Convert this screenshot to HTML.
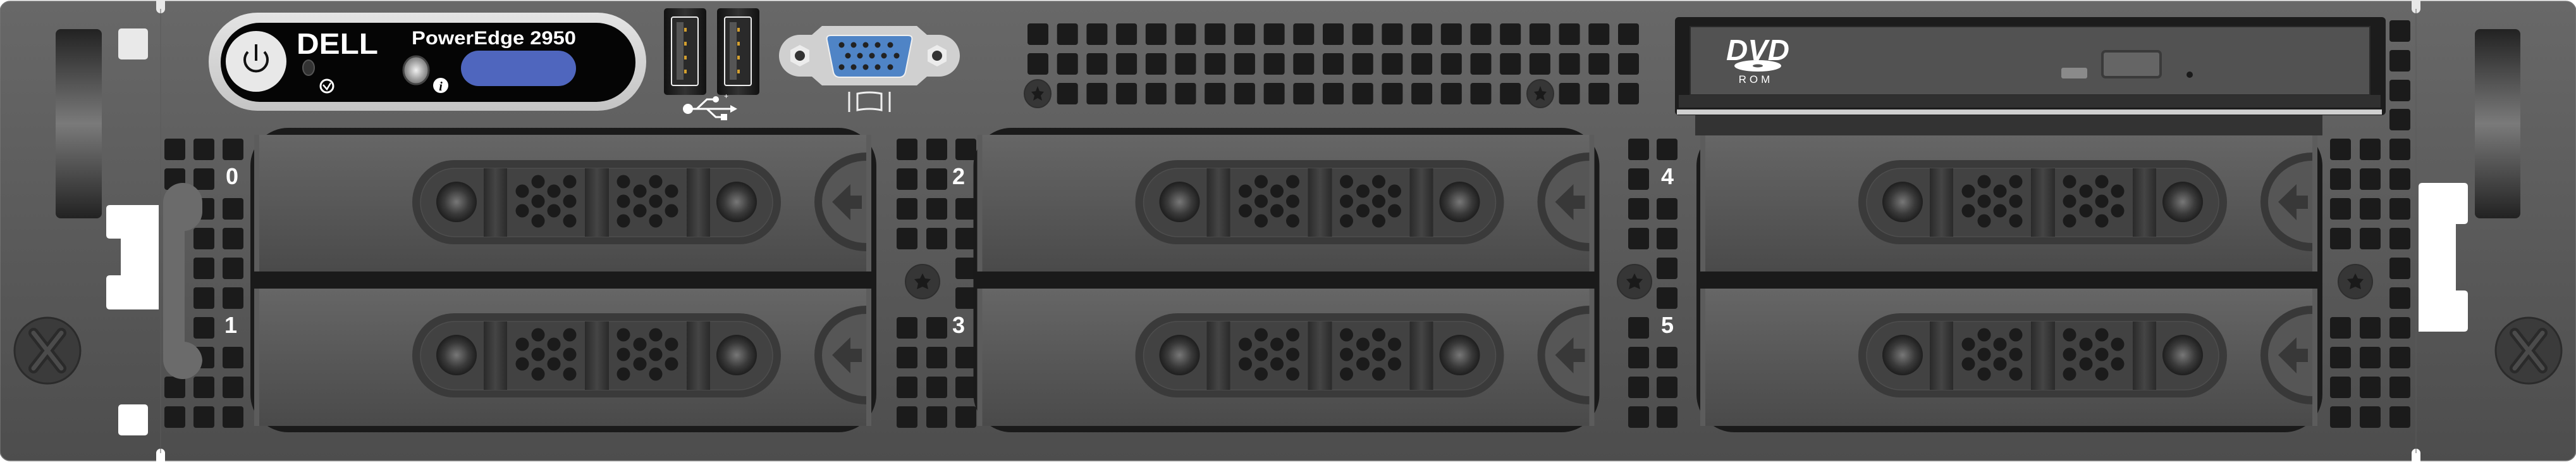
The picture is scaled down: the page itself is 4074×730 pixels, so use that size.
<!DOCTYPE html>
<html><head><meta charset="utf-8"><style>html,body{margin:0;padding:0;background:#fff}svg{display:block}</style></head><body>
<svg xmlns="http://www.w3.org/2000/svg" xmlns:xlink="http://www.w3.org/1999/xlink" width="4074" height="730" viewBox="0 0 4074 730">
<defs>
<linearGradient id="body" x1="0" y1="0" x2="0" y2="1"><stop offset="0" stop-color="#686868"/><stop offset="1" stop-color="#4d4d4d"/></linearGradient>
<linearGradient id="tray" x1="0" y1="0" x2="0" y2="1"><stop offset="0" stop-color="#666"/><stop offset="1" stop-color="#4a4a4a"/></linearGradient>
<linearGradient id="earh" x1="0" y1="0" x2="0" y2="1"><stop offset="0" stop-color="#222"/><stop offset="0.5" stop-color="#7a7a7a"/><stop offset="1" stop-color="#222"/></linearGradient>
<linearGradient id="bez" x1="0" y1="0" x2="0" y2="1"><stop offset="0" stop-color="#e4e4e4"/><stop offset="1" stop-color="#c4c4c4"/></linearGradient>
<linearGradient id="bar" x1="0" y1="0" x2="1" y2="0"><stop offset="0" stop-color="#2a2a2a"/><stop offset="0.5" stop-color="#454545"/><stop offset="1" stop-color="#2a2a2a"/></linearGradient>
<radialGradient id="knob"><stop offset="0" stop-color="#777"/><stop offset="0.6" stop-color="#3a3a3a"/><stop offset="1" stop-color="#1e1e1e"/></radialGradient>
<radialGradient id="led"><stop offset="0" stop-color="#f0f0f0"/><stop offset="1" stop-color="#777"/></radialGradient>
<linearGradient id="usb" x1="0" y1="0" x2="1" y2="0"><stop offset="0" stop-color="#111"/><stop offset="0.5" stop-color="#333"/><stop offset="1" stop-color="#111"/></linearGradient>
<g id="hh">
 <rect x="652" y="253" width="583" height="133" rx="66" fill="#3a3a3a"/>
 <rect x="665" y="266" width="557" height="108" rx="54" fill="#424242" stroke="#4e4e4e" stroke-width="1.5"/>
 <ellipse cx="722" cy="319" rx="32" ry="32" fill="url(#knob)"/>
 <ellipse cx="1165" cy="319" rx="32" ry="32" fill="url(#knob)"/>
 <rect x="765" y="266" width="37" height="108" fill="url(#bar)"/>
 <rect x="925" y="266" width="38" height="108" fill="url(#bar)"/>
 <rect x="1086" y="266" width="37" height="108" fill="url(#bar)"/>
 <g fill="#1b1b1b">
 <circle cx="826" cy="302" r="10.5"/><circle cx="826" cy="333" r="10.5"/>
 <circle cx="851" cy="287" r="10.5"/><circle cx="851" cy="318" r="10.5"/><circle cx="851" cy="349" r="10.5"/>
 <circle cx="876" cy="302" r="10.5"/><circle cx="876" cy="333" r="10.5"/>
 <circle cx="901" cy="287" r="10.5"/><circle cx="901" cy="318" r="10.5"/><circle cx="901" cy="349" r="10.5"/>
 <circle cx="986" cy="287" r="10.5"/><circle cx="986" cy="318" r="10.5"/><circle cx="986" cy="349" r="10.5"/>
 <circle cx="1012" cy="302" r="10.5"/><circle cx="1012" cy="333" r="10.5"/>
 <circle cx="1037" cy="287" r="10.5"/><circle cx="1037" cy="318" r="10.5"/><circle cx="1037" cy="349" r="10.5"/>
 <circle cx="1062" cy="302" r="10.5"/><circle cx="1062" cy="333" r="10.5"/>
 </g>
 <path d="M1370,241 A82,78 0 0 0 1370,397 Z" fill="#383838"/>
 <path d="M1370,254 A70,65 0 0 0 1370,384 Z" fill="#565656"/>
 <path d="M1316,319 L1345,291 L1345,309 L1363,309 L1363,330 L1345,330 L1345,348 Z" fill="#383838"/>
</g>
<g id="bay">
 <rect x="396" y="202" width="990" height="481" rx="60" fill="#1a1a1a"/>
 <rect x="402" y="213" width="976" height="216" fill="url(#tray)"/>
 <rect x="402" y="456" width="976" height="217" fill="url(#tray)"/>
 <rect x="402" y="213" width="8" height="216" fill="#5c5c5c"/>
 <rect x="402" y="456" width="8" height="217" fill="#5c5c5c"/>
 <use xlink:href="#hh"/>
 <use xlink:href="#hh" transform="translate(0,242)"/>
 <rect x="1370" y="213" width="8" height="216" fill="#5c5c5c"/>
 <rect x="1370" y="456" width="8" height="217" fill="#5c5c5c"/>
</g>
<rect id="c" width="33" height="34" rx="4" fill="#1b1b1b"/>
<g id="scr"><circle r="27" fill="#363636" stroke="#2e2e2e" stroke-width="2"/><path d="M0,-13 L4,-5 13,-4 7,3 9,12 0,8 -9,12 -7,3 -13,-4 -4,-5Z" fill="#1a1a1a"/></g>
<g id="ts"><ellipse rx="21" ry="22" fill="#363636" stroke="#2e2e2e" stroke-width="2"/><path d="M0,-12 L3,-4 10,-3 5,3 7,11 0,7 -7,11 -5,3 -10,-3 -3,-4Z" fill="#1a1a1a"/></g>
<g id="ears"><circle r="52" fill="#3b3b3b" stroke="#2b2b2b" stroke-width="3"/><path d="M-22,-28 L22,28 M22,-28 L-22,28" stroke="#2a2a2a" stroke-width="16" stroke-linecap="round"/><path d="M-22,-28 L22,28 M22,-28 L-22,28" stroke="#4b4b4b" stroke-width="7" stroke-linecap="round"/></g>
</defs>

<!-- chassis -->
<rect x="0" y="2" width="4074" height="726" rx="16" fill="url(#body)" stroke="#777" stroke-width="1.5"/>
<path d="M247,0 L261,0 L261,14 A7,7 0 0 1 247,14 Z" fill="#e8e8e8"/>
<path d="M3814,0 L3828,0 L3828,14 A7,7 0 0 1 3814,14 Z" fill="#e8e8e8"/>
<path d="M247,730 L261,730 L261,716 A7,7 0 0 0 247,716 Z" fill="#fff"/>
<path d="M3814,730 L3828,730 L3828,716 A7,7 0 0 0 3814,716 Z" fill="#fff"/>
<line x1="254" y1="14" x2="254" y2="716" stroke="#5a5a5a" stroke-width="1"/>
<line x1="3821" y1="14" x2="3821" y2="716" stroke="#5a5a5a" stroke-width="1"/>

<!-- left ear -->
<rect x="88" y="46" width="73" height="299" rx="8" fill="url(#earh)"/>
<rect x="187" y="45" width="47" height="49" rx="5" fill="#e9e9e9"/>
<rect x="187" y="639" width="47" height="49" rx="5" fill="#fff"/>
<path d="M174,324 L251,324 L251,489 L174,489 Q168,489 168,483 L168,441 Q168,435 174,435 L191,435 L191,377 L174,377 Q168,377 168,371 L168,330 Q168,324 174,324Z" fill="#fff"/>
<use xlink:href="#ears" x="75" y="554"/>
<!-- right ear -->
<rect x="3914" y="46" width="72" height="299" rx="8" fill="url(#earh)"/>
<path d="M3831,289 L3897,289 Q3903,289 3903,295 L3903,348 Q3903,354 3897,354 L3884,354 L3884,459 L3897,459 Q3903,459 3903,465 L3903,518 Q3903,524 3897,524 L3825,524 L3825,295 Q3825,289 3831,289Z" fill="#fff"/>
<use xlink:href="#ears" x="3999" y="554"/>

<!-- vents left -->
<g>
<use xlink:href="#c" x="260" y="219"/><use xlink:href="#c" x="306" y="219"/><use xlink:href="#c" x="352" y="219"/>
<use xlink:href="#c" x="260" y="266"/><use xlink:href="#c" x="306" y="266"/>
<use xlink:href="#c" x="260" y="313"/><use xlink:href="#c" x="306" y="313"/><use xlink:href="#c" x="352" y="313"/>
<use xlink:href="#c" x="306" y="360"/><use xlink:href="#c" x="352" y="360"/>
<use xlink:href="#c" x="306" y="407"/><use xlink:href="#c" x="352" y="407"/>
<use xlink:href="#c" x="306" y="454"/><use xlink:href="#c" x="352" y="454"/>
<use xlink:href="#c" x="306" y="501"/>
<use xlink:href="#c" x="306" y="548"/><use xlink:href="#c" x="352" y="548"/>
<use xlink:href="#c" x="260" y="595"/><use xlink:href="#c" x="306" y="595"/><use xlink:href="#c" x="352" y="595"/>
<use xlink:href="#c" x="260" y="642"/><use xlink:href="#c" x="306" y="642"/><use xlink:href="#c" x="352" y="642"/>
</g>
<path d="M258,320 A31,31 0 0 1 320,320 L320,335 A31,31 0 0 1 292,365 L292,540 A31,31 0 0 1 320,570 L320,568 A31,31 0 0 1 258,568 Z" fill="#6b6b6b"/>

<!-- vents middle 1 -->
<g>
<use xlink:href="#c" x="1418" y="219"/><use xlink:href="#c" x="1465" y="219"/><use xlink:href="#c" x="1511" y="219"/>
<use xlink:href="#c" x="1418" y="266"/><use xlink:href="#c" x="1465" y="266"/>
<use xlink:href="#c" x="1418" y="313"/><use xlink:href="#c" x="1465" y="313"/><use xlink:href="#c" x="1511" y="313"/>
<use xlink:href="#c" x="1418" y="360"/><use xlink:href="#c" x="1465" y="360"/><use xlink:href="#c" x="1511" y="360"/>
<use xlink:href="#c" x="1511" y="407"/><use xlink:href="#c" x="1511" y="454"/>
<use xlink:href="#c" x="1418" y="501"/><use xlink:href="#c" x="1465" y="501"/>
<use xlink:href="#c" x="1418" y="548"/><use xlink:href="#c" x="1465" y="548"/><use xlink:href="#c" x="1511" y="548"/>
<use xlink:href="#c" x="1418" y="595"/><use xlink:href="#c" x="1465" y="595"/><use xlink:href="#c" x="1511" y="595"/>
<use xlink:href="#c" x="1418" y="642"/><use xlink:href="#c" x="1465" y="642"/><use xlink:href="#c" x="1511" y="642"/>
</g>
<!-- vents middle 2 -->
<g>
<use xlink:href="#c" x="2575" y="219"/><use xlink:href="#c" x="2620" y="219"/>
<use xlink:href="#c" x="2575" y="266"/>
<use xlink:href="#c" x="2575" y="313"/><use xlink:href="#c" x="2620" y="313"/>
<use xlink:href="#c" x="2575" y="360"/><use xlink:href="#c" x="2620" y="360"/>
<use xlink:href="#c" x="2620" y="407"/><use xlink:href="#c" x="2620" y="454"/>
<use xlink:href="#c" x="2575" y="501"/>
<use xlink:href="#c" x="2575" y="548"/><use xlink:href="#c" x="2620" y="548"/>
<use xlink:href="#c" x="2575" y="595"/><use xlink:href="#c" x="2620" y="595"/>
<use xlink:href="#c" x="2575" y="642"/><use xlink:href="#c" x="2620" y="642"/>
</g>
<!-- vents right -->
<g>
<use xlink:href="#c" x="3779" y="32"/><use xlink:href="#c" x="3779" y="79"/><use xlink:href="#c" x="3779" y="126"/><use xlink:href="#c" x="3779" y="172"/>
<use xlink:href="#c" x="3685" y="219"/><use xlink:href="#c" x="3732" y="219"/><use xlink:href="#c" x="3779" y="219"/>
<use xlink:href="#c" x="3685" y="266"/><use xlink:href="#c" x="3732" y="266"/><use xlink:href="#c" x="3779" y="266"/>
<use xlink:href="#c" x="3685" y="313"/><use xlink:href="#c" x="3732" y="313"/><use xlink:href="#c" x="3779" y="313"/>
<use xlink:href="#c" x="3685" y="360"/><use xlink:href="#c" x="3732" y="360"/><use xlink:href="#c" x="3779" y="360"/>
<use xlink:href="#c" x="3779" y="407"/><use xlink:href="#c" x="3779" y="454"/>
<use xlink:href="#c" x="3685" y="501"/><use xlink:href="#c" x="3732" y="501"/><use xlink:href="#c" x="3779" y="501"/>
<use xlink:href="#c" x="3685" y="548"/><use xlink:href="#c" x="3732" y="548"/><use xlink:href="#c" x="3779" y="548"/>
<use xlink:href="#c" x="3685" y="595"/><use xlink:href="#c" x="3732" y="595"/><use xlink:href="#c" x="3779" y="595"/>
<use xlink:href="#c" x="3685" y="642"/><use xlink:href="#c" x="3732" y="642"/><use xlink:href="#c" x="3779" y="642"/>
</g>
<use xlink:href="#scr" x="1459" y="445"/>
<use xlink:href="#scr" x="2585" y="445"/>
<use xlink:href="#scr" x="3725" y="445"/>

<!-- top vents -->
<g id="tv">
<g id="tcol"><use xlink:href="#c" x="1625" y="37"/><use xlink:href="#c" x="1625" y="84"/><use xlink:href="#c" x="1625" y="131"/></g>
</g>
<g>
<use xlink:href="#tcol" x="46.7"/><use xlink:href="#tcol" x="93.4"/><use xlink:href="#tcol" x="140.1"/><use xlink:href="#tcol" x="186.8"/><use xlink:href="#tcol" x="233.5"/><use xlink:href="#tcol" x="280.2"/><use xlink:href="#tcol" x="326.9"/><use xlink:href="#tcol" x="373.6"/><use xlink:href="#tcol" x="420.3"/><use xlink:href="#tcol" x="467"/><use xlink:href="#tcol" x="513.7"/><use xlink:href="#tcol" x="560.4"/><use xlink:href="#tcol" x="607.1"/><use xlink:href="#tcol" x="653.8"/><use xlink:href="#tcol" x="700.5"/><use xlink:href="#tcol" x="747.2"/><use xlink:href="#tcol" x="793.9"/><use xlink:href="#tcol" x="840.6"/><use xlink:href="#tcol" x="887.3"/><use xlink:href="#tcol" x="934"/>
</g>
<rect x="1620" y="128" width="40" height="42" fill="#636363"/>
<rect x="2414" y="128" width="42" height="42" fill="#636363"/>
<use xlink:href="#ts" x="1641" y="148"/>
<use xlink:href="#ts" x="2436" y="148"/>

<!-- bays -->
<use xlink:href="#bay"/>
<use xlink:href="#bay" x="1143.5"/>
<use xlink:href="#bay" x="2287"/>

<!-- labels -->
<g font-family="Liberation Sans, sans-serif" font-weight="bold" font-size="36" fill="#fff" text-anchor="middle">
<text x="367" y="291">0</text><text x="365" y="526">1</text>
<text x="1516" y="291">2</text><text x="1516" y="526">3</text>
<text x="2637" y="291">4</text><text x="2637" y="526">5</text>
</g>

<!-- front panel -->
<rect x="330" y="20" width="692" height="155" rx="77" fill="url(#bez)"/>
<rect x="349" y="36" width="656" height="125" rx="62" fill="#050505"/>
<circle cx="405" cy="97" r="48" fill="#e8e8e8"/>
<path d="M392,82 A18,18 0 1 0 418,82" fill="none" stroke="#111" stroke-width="4"/>
<line x1="405" y1="70" x2="405" y2="96" stroke="#111" stroke-width="4"/>
<text x="469" y="85" font-family="Liberation Sans, sans-serif" font-weight="bold" font-size="46" fill="#fff" textLength="129" lengthAdjust="spacingAndGlyphs">DELL</text>
<ellipse cx="488" cy="107" rx="9" ry="12" fill="#333" stroke="#555" stroke-width="2"/>
<circle cx="517" cy="136" r="10" fill="none" stroke="#fff" stroke-width="3"/>
<path d="M511,134 L517,141 L523,131" fill="none" stroke="#fff" stroke-width="2.5"/>
<text x="651" y="70" font-family="Liberation Sans, sans-serif" font-weight="bold" font-size="30" fill="#fff" textLength="260" lengthAdjust="spacingAndGlyphs">PowerEdge 2950</text>
<ellipse cx="658" cy="111" rx="20" ry="22" fill="url(#led)" stroke="#444" stroke-width="3"/>
<circle cx="697" cy="135" r="12" fill="#fff"/>
<text x="697" y="143" font-family="Liberation Serif, serif" font-weight="bold" font-style="italic" font-size="20" fill="#000" text-anchor="middle">i</text>
<rect x="729" y="80" width="182" height="56" rx="28" fill="#4f66be"/>

<!-- USB -->
<g>
<rect x="1050" y="13" width="67" height="137" rx="5" fill="url(#usb)"/>
<rect x="1062" y="27" width="42" height="108" rx="3" fill="#2a2a2a" stroke="#eee" stroke-width="2"/>
<rect x="1070" y="35" width="11" height="91" fill="#555"/>
<g fill="#d4a030"><rect x="1082" y="44" width="4" height="6"/><rect x="1082" y="66" width="4" height="6"/><rect x="1082" y="88" width="4" height="6"/><rect x="1082" y="110" width="4" height="6"/></g>
<rect x="1134" y="13" width="67" height="137" rx="5" fill="url(#usb)"/>
<rect x="1146" y="27" width="42" height="108" rx="3" fill="#2a2a2a" stroke="#eee" stroke-width="2"/>
<rect x="1154" y="35" width="11" height="91" fill="#555"/>
<g fill="#d4a030"><rect x="1166" y="44" width="4" height="6"/><rect x="1166" y="66" width="4" height="6"/><rect x="1166" y="88" width="4" height="6"/><rect x="1166" y="110" width="4" height="6"/></g>
<circle cx="1088" cy="172" r="8" fill="#fff"/>
<path d="M1088,172 L1158,172 M1102,172 L1118,157 L1130,157 M1118,172 L1132,185 L1142,185" stroke="#fff" stroke-width="3" fill="none"/>
<path d="M1155,166 L1166,172 L1155,178 Z" fill="#fff"/>
<circle cx="1132" cy="157" r="5" fill="#fff"/>
<rect x="1140" y="180" width="10" height="10" fill="#fff"/>
<text x="1145" y="156" font-family="Liberation Sans, sans-serif" font-size="12" fill="#fff">+</text>
</g>

<!-- VGA -->
<g>
<path d="M1300,41 L1450,41 L1466,55 L1485,55 A33,33 0 0 1 1485,121 L1466,121 L1450,135 L1300,135 L1284,121 L1265,121 A33,33 0 0 1 1265,55 L1284,55 Z" fill="#d0d0d0"/>
<polygon points="1265,71 1280,79 1280,97 1265,105 1250,97 1250,79" fill="#ececec"/>
<polygon points="1482,71 1497,79 1497,97 1482,105 1467,97 1467,79" fill="#ececec"/>
<circle cx="1265" cy="88" r="8" fill="#333"/><circle cx="1482" cy="88" r="8" fill="#333"/>
<path d="M1314,56 L1436,56 Q1444,56 1442,64 L1432,114 Q1430,122 1422,122 L1328,122 Q1320,122 1318,114 L1308,64 Q1306,56 1314,56Z" fill="#4f84c6" stroke="#f0f0f0" stroke-width="2"/>
<g fill="#222">
<circle cx="1331" cy="71" r="4.5"/><circle cx="1350" cy="71" r="4.5"/><circle cx="1369" cy="71" r="4.5"/><circle cx="1388" cy="71" r="4.5"/><circle cx="1408" cy="71" r="4.5"/>
<circle cx="1341" cy="88" r="4.5"/><circle cx="1360" cy="88" r="4.5"/><circle cx="1379" cy="88" r="4.5"/><circle cx="1398" cy="88" r="4.5"/><circle cx="1418" cy="88" r="4.5"/>
<circle cx="1331" cy="106" r="4.5"/><circle cx="1350" cy="106" r="4.5"/><circle cx="1369" cy="106" r="4.5"/><circle cx="1388" cy="106" r="4.5"/><circle cx="1408" cy="106" r="4.5"/>
</g>
<path d="M1343,145 L1343,177 M1407,145 L1407,177" stroke="#eee" stroke-width="3"/>
<path d="M1356,148 Q1375,144 1394,148 L1394,174 Q1375,170 1356,174 Z" fill="none" stroke="#eee" stroke-width="3"/>
</g>

<!-- DVD -->
<rect x="2681" y="180" width="992" height="34" fill="#333"/>
<rect x="2649" y="27" width="1124" height="155" rx="6" fill="#1c1c1c"/>
<rect x="2673" y="42" width="1075" height="108" fill="#525252" stroke="#2a2a2a" stroke-width="2"/>
<rect x="2655" y="150" width="1110" height="20" fill="#303030"/>
<rect x="2652" y="173" width="1115" height="8" fill="#d0d0d0"/>
<text x="2780" y="95" font-family="Liberation Sans, sans-serif" font-weight="bold" font-style="italic" font-size="46" fill="#fff" text-anchor="middle" textLength="100" lengthAdjust="spacingAndGlyphs">DVD</text>
<ellipse cx="2780" cy="104" rx="37" ry="9" fill="#fff"/>
<ellipse cx="2780" cy="104" rx="8" ry="2.5" fill="#555"/>
<text x="2777" y="131" font-family="Liberation Sans, sans-serif" font-size="17" fill="#fff" text-anchor="middle" letter-spacing="5">ROM</text>
<rect x="3260" y="107" width="41" height="17" rx="3" fill="#8a8a8a"/>
<rect x="3325" y="81" width="92" height="41" rx="5" fill="#656565" stroke="#3a3a3a" stroke-width="4"/>
<circle cx="3463" cy="118" r="5" fill="#1a1a1a"/>
</svg>
</body></html>
